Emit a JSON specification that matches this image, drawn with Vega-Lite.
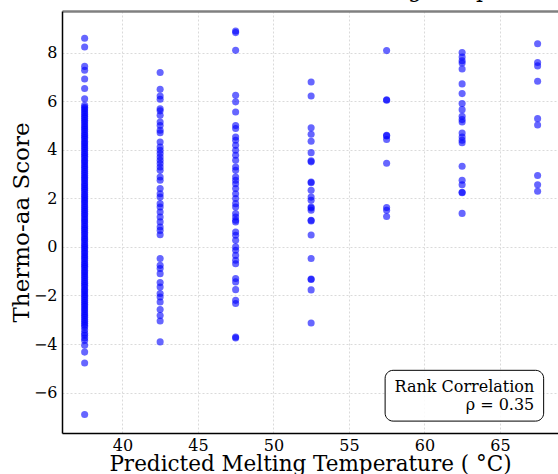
{
  "$schema": "https://vega.github.io/schema/vega-lite/v6.json",
  "width": 496,
  "height": 422,
  "autosize": {"type": "none"},
  "padding": {"left": 62, "top": 11, "right": 0, "bottom": 41},
  "background": "white",
  "config": {"view": {"stroke": null}, "font": "DejaVu Serif"},
  "title": {"text": "Melting Temperature", "anchor": "start", "dx": 325, "dy": 8, "fontSize": 22, "font": "DejaVu Serif", "fontWeight": "normal", "baseline": "alphabetic", "offset": 0, "color": "black"},
  "datasets": {
    "pts": [
      {"t":37.5,"s":8.59},{"t":37.5,"s":8.23},{"t":37.5,"s":7.43},{"t":37.5,"s":7.27},{"t":37.5,"s":6.91},{"t":37.5,"s":6.52},{"t":37.5,"s":6.1},{"t":37.5,"s":5.83},
      {"t":37.5,"s":5.75},{"t":37.5,"s":5.68},{"t":37.5,"s":5.6},{"t":37.5,"s":5.52},{"t":37.5,"s":5.45},{"t":37.5,"s":5.37},{"t":37.5,"s":5.3},{"t":37.5,"s":5.21},{"t":37.5,"s":5.14},{"t":37.5,"s":5.06},
      {"t":37.5,"s":4.98},{"t":37.5,"s":4.9},{"t":37.5,"s":4.83},{"t":37.5,"s":4.75},{"t":37.5,"s":4.66},{"t":37.5,"s":4.59},{"t":37.5,"s":4.51},{"t":37.5,"s":4.44},{"t":37.5,"s":4.35},{"t":37.5,"s":4.28},
      {"t":37.5,"s":4.2},{"t":37.5,"s":4.12},{"t":37.5,"s":4.05},{"t":37.5,"s":3.97},{"t":37.5,"s":3.88},{"t":37.5,"s":3.81},{"t":37.5,"s":3.73},{"t":37.5,"s":3.66},{"t":37.5,"s":3.57},{"t":37.5,"s":3.5},
      {"t":37.5,"s":3.42},{"t":37.5,"s":3.34},{"t":37.5,"s":3.27},{"t":37.5,"s":3.19},{"t":37.5,"s":3.1},{"t":37.5,"s":3.03},{"t":37.5,"s":2.95},{"t":37.5,"s":2.87},{"t":37.5,"s":2.8},{"t":37.5,"s":2.72},
      {"t":37.5,"s":2.63},{"t":37.5,"s":2.56},{"t":37.5,"s":2.48},{"t":37.5,"s":2.4},{"t":37.5,"s":2.33},{"t":37.5,"s":2.25},{"t":37.5,"s":2.16},{"t":37.5,"s":2.09},{"t":37.5,"s":2.01},{"t":37.5,"s":1.93},
      {"t":37.5,"s":1.86},{"t":37.5,"s":1.78},{"t":37.5,"s":1.69},{"t":37.5,"s":1.62},{"t":37.5,"s":1.54},{"t":37.5,"s":1.47},{"t":37.5,"s":1.38},{"t":37.5,"s":1.31},{"t":37.5,"s":1.23},{"t":37.5,"s":1.15},
      {"t":37.5,"s":1.08},{"t":37.5,"s":1.0},{"t":37.5,"s":0.91},{"t":37.5,"s":0.84},{"t":37.5,"s":0.76},{"t":37.5,"s":0.69},{"t":37.5,"s":0.6},{"t":37.5,"s":0.53},{"t":37.5,"s":0.45},{"t":37.5,"s":0.37},
      {"t":37.5,"s":0.3},{"t":37.5,"s":0.22},{"t":37.5,"s":0.13},{"t":37.5,"s":0.06},{"t":37.5,"s":-0.02},{"t":37.5,"s":-0.09},{"t":37.5,"s":-0.18},{"t":37.5,"s":-0.25},{"t":37.5,"s":-0.33},{"t":37.5,"s":-0.41},
      {"t":37.5,"s":-0.48},{"t":37.5,"s":-0.56},{"t":37.5,"s":-0.65},{"t":37.5,"s":-0.72},{"t":37.5,"s":-0.8},{"t":37.5,"s":-0.87},{"t":37.5,"s":-0.96},{"t":37.5,"s":-1.03},{"t":37.5,"s":-1.11},{"t":37.5,"s":-1.19},
      {"t":37.5,"s":-1.26},{"t":37.5,"s":-1.34},{"t":37.5,"s":-1.43},{"t":37.5,"s":-1.5},{"t":37.5,"s":-1.58},{"t":37.5,"s":-1.65},{"t":37.5,"s":-1.74},{"t":37.5,"s":-1.81},{"t":37.5,"s":-1.89},{"t":37.5,"s":-1.97},
      {"t":37.5,"s":-2.04},{"t":37.5,"s":-2.12},{"t":37.5,"s":-2.21},{"t":37.5,"s":-2.28},{"t":37.5,"s":-2.36},{"t":37.5,"s":-2.43},{"t":37.5,"s":-2.52},{"t":37.5,"s":-2.59},{"t":37.5,"s":-2.67},{"t":37.5,"s":-2.75},
      {"t":37.5,"s":-2.82},{"t":37.5,"s":-2.9},{"t":37.5,"s":-2.99},{"t":37.5,"s":-3.06},{"t":37.5,"s":-3.14},{"t":37.5,"s":-3.22},{"t":37.5,"s":-3.3},
      {"t":37.5,"s":-3.42},{"t":37.5,"s":-3.55},{"t":37.5,"s":-3.64},{"t":37.5,"s":-3.75},{"t":37.5,"s":-3.85},{"t":37.5,"s":-4.05},{"t":37.5,"s":-4.33},{"t":37.5,"s":-4.78},{"t":37.5,"s":-6.9},
      {"t":42.5,"s":7.18},{"t":42.5,"s":6.49},{"t":42.5,"s":6.21},{"t":42.5,"s":6.08},{"t":42.5,"s":5.69},{"t":42.5,"s":5.6},{"t":42.5,"s":5.42},{"t":42.5,"s":5.14},{"t":42.5,"s":5.0},{"t":42.5,"s":4.8},{"t":42.5,"s":4.7},
      {"t":42.5,"s":4.32},{"t":42.5,"s":4.11},{"t":42.5,"s":3.98},{"t":42.5,"s":3.84},{"t":42.5,"s":3.7},{"t":42.5,"s":3.57},{"t":42.5,"s":3.43},{"t":42.5,"s":3.29},{"t":42.5,"s":3.15},{"t":42.5,"s":2.88},{"t":42.5,"s":2.74},
      {"t":42.5,"s":2.4},{"t":42.5,"s":2.19},{"t":42.5,"s":2.05},{"t":42.5,"s":1.78},{"t":42.5,"s":1.64},{"t":42.5,"s":1.44},{"t":42.5,"s":1.23},{"t":42.5,"s":1.03},{"t":42.5,"s":0.82},{"t":42.5,"s":0.68},{"t":42.5,"s":0.5},
      {"t":42.5,"s":-0.48},{"t":42.5,"s":-0.76},{"t":42.5,"s":-0.89},{"t":42.5,"s":-1.1},{"t":42.5,"s":-1.47},{"t":42.5,"s":-1.65},{"t":42.5,"s":-1.92},{"t":42.5,"s":-2.06},{"t":42.5,"s":-2.27},{"t":42.5,"s":-2.58},{"t":42.5,"s":-2.82},{"t":42.5,"s":-3.05},{"t":42.5,"s":-3.91},
      {"t":47.5,"s":8.89},{"t":47.5,"s":8.82},{"t":47.5,"s":8.09},{"t":47.5,"s":6.24},{"t":47.5,"s":5.97},{"t":47.5,"s":5.55},{"t":47.5,"s":5.0},{"t":47.5,"s":4.87},{"t":47.5,"s":4.52},{"t":47.5,"s":4.39},{"t":47.5,"s":4.18},
      {"t":47.5,"s":3.98},{"t":47.5,"s":3.77},{"t":47.5,"s":3.57},{"t":47.5,"s":3.29},{"t":47.5,"s":3.15},{"t":47.5,"s":2.88},{"t":47.5,"s":2.74},{"t":47.5,"s":2.6},{"t":47.5,"s":2.4},{"t":47.5,"s":2.19},{"t":47.5,"s":1.99},
      {"t":47.5,"s":1.78},{"t":47.5,"s":1.64},{"t":47.5,"s":1.37},{"t":47.5,"s":1.23},{"t":47.5,"s":1.1},{"t":47.5,"s":1.03},{"t":47.5,"s":0.61},{"t":47.5,"s":0.48},{"t":47.5,"s":0.27},{"t":47.5,"s":0.0},{"t":47.5,"s":-0.14},
      {"t":47.5,"s":-0.35},{"t":47.5,"s":-0.55},{"t":47.5,"s":-0.69},{"t":47.5,"s":-1.3},{"t":47.5,"s":-1.44},{"t":47.5,"s":-1.76},{"t":47.5,"s":-2.2},{"t":47.5,"s":-2.33},{"t":47.5,"s":-3.71},{"t":47.5,"s":-3.75},
      {"t":52.5,"s":6.79},{"t":52.5,"s":6.21},{"t":52.5,"s":4.9},{"t":52.5,"s":4.64},{"t":52.5,"s":4.35},{"t":52.5,"s":3.88},{"t":52.5,"s":3.54},{"t":52.5,"s":3.5},{"t":52.5,"s":2.67},{"t":52.5,"s":2.64},
      {"t":52.5,"s":2.33},{"t":52.5,"s":2.05},{"t":52.5,"s":1.92},{"t":52.5,"s":1.64},{"t":52.5,"s":1.6},{"t":52.5,"s":1.51},{"t":52.5,"s":1.1},{"t":52.5,"s":1.07},{"t":52.5,"s":0.49},{"t":52.5,"s":-0.48},
      {"t":52.5,"s":-1.32},{"t":52.5,"s":-1.34},{"t":52.5,"s":-1.77},{"t":52.5,"s":-3.13},
      {"t":57.5,"s":8.08},{"t":57.5,"s":6.06},{"t":57.5,"s":6.04},{"t":57.5,"s":4.59},{"t":57.5,"s":4.57},{"t":57.5,"s":4.42},{"t":57.5,"s":3.44},{"t":57.5,"s":1.62},{"t":57.5,"s":1.51},{"t":57.5,"s":1.25},
      {"t":62.5,"s":8.0},{"t":62.5,"s":7.82},{"t":62.5,"s":7.66},{"t":62.5,"s":7.57},{"t":62.5,"s":7.32},{"t":62.5,"s":6.71},{"t":62.5,"s":6.31},{"t":62.5,"s":5.9},{"t":62.5,"s":5.65},{"t":62.5,"s":5.38},
      {"t":62.5,"s":5.24},{"t":62.5,"s":5.14},{"t":62.5,"s":4.69},{"t":62.5,"s":4.52},{"t":62.5,"s":4.39},{"t":62.5,"s":4.29},{"t":62.5,"s":3.32},{"t":62.5,"s":2.74},{"t":62.5,"s":2.56},{"t":62.5,"s":2.25},{"t":62.5,"s":2.23},{"t":62.5,"s":1.38},
      {"t":67.5,"s":8.36},{"t":67.5,"s":7.59},{"t":67.5,"s":7.45},{"t":67.5,"s":6.82},{"t":67.5,"s":5.28},{"t":67.5,"s":5.02},{"t":67.5,"s":2.94},{"t":67.5,"s":2.56},{"t":67.5,"s":2.29}
    ],
    "box": [{"x1": 57.4, "x2": 67.9, "y1": -5.08, "y2": -7.17}],
    "note": [
      {"x": 67.28, "y": -5.97, "label": "Rank Correlation"},
      {"x": 67.28, "y": -6.7, "label": "ρ = 0.35"}
    ]
  },
  "layer": [
    {
      "data": {"name": "pts"},
      "mark": {"type": "point", "filled": true, "size": 50, "opacity": 0.6, "color": "#0000ff", "strokeWidth": 0},
      "encoding": {
        "x": {"field": "t", "type": "quantitative",
          "scale": {"domain": [36, 68.85], "nice": false, "zero": false},
          "axis": {"orient": "bottom", "title": "Predicted Melting Temperature ( °C)", "values": [40, 45, 50, 55, 60, 65],
            "labelFontSize": 16, "labelColor": "black", "labelFont": "DejaVu Serif", "labelPadding": 4, "ticks": false,
            "titleFontSize": 21.5, "titleFont": "DejaVu Serif", "titleFontWeight": "normal", "titleColor": "black", "titlePadding": 0,
            "domainColor": "black", "domainWidth": 1.5,
            "grid": true, "gridColor": "#dadada", "gridDash": [2, 2], "gridWidth": 1}},
        "y": {"field": "s", "type": "quantitative",
          "scale": {"domain": [-7.66, 9.71], "nice": false, "zero": false},
          "axis": {"title": "Thermo-aa Score", "values": [-6, -4, -2, 0, 2, 4, 6, 8],
            "labelFontSize": 16, "labelColor": "black", "labelFont": "DejaVu Serif", "labelPadding": 5, "ticks": false,
            "titleFontSize": 23, "titleFont": "DejaVu Serif", "titleFontWeight": "normal", "titleColor": "black", "titlePadding": 0,
            "domainColor": "black", "domainWidth": 1.5,
            "grid": true, "gridColor": "#dadada", "gridDash": [2, 2], "gridWidth": 1}}
      }
    },
    {
      "data": {"name": "box"},
      "mark": {"type": "rect", "cornerRadius": 8, "fill": "white", "fillOpacity": 0.85, "stroke": "black", "strokeWidth": 1},
      "encoding": {
        "x": {"field": "x1", "type": "quantitative",
          "axis": {"orient": "top", "title": null, "labels": false, "ticks": false, "grid": false, "domainColor": "#808080", "domainWidth": 2.5}},
        "x2": {"field": "x2"},
        "y": {"field": "y1", "type": "quantitative", "axis": null},
        "y2": {"field": "y2"}
      }
    },
    {
      "data": {"name": "note"},
      "mark": {"type": "text", "align": "right", "baseline": "alphabetic", "fontSize": 16, "font": "DejaVu Serif", "color": "black"},
      "encoding": {
        "x": {"field": "x", "type": "quantitative", "axis": null},
        "y": {"field": "y", "type": "quantitative", "axis": null},
        "text": {"field": "label"}
      }
    }
  ],
  "resolve": {"axis": {"x": "independent", "y": "independent"}}
}
